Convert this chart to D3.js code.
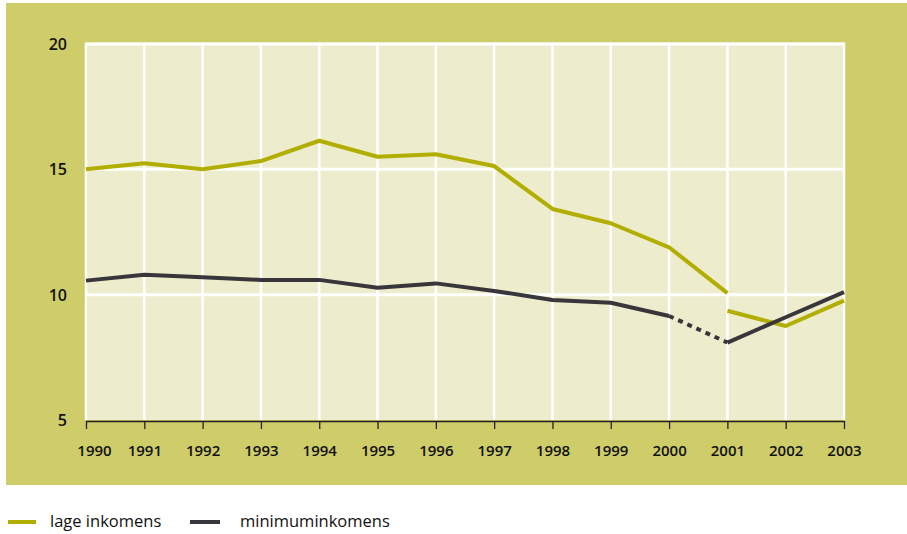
<!DOCTYPE html>
<html>
<head>
<meta charset="utf-8">
<script src="https://cdn.jsdelivr.net/npm/d3@7/dist/d3.min.js"></script>
<style>
  html, body { margin: 0; padding: 0; background: #ffffff; }
  svg { display: block; }
</style>
</head>
<body>
<svg id="chart" width="907" height="534"></svg>
<script>
// ---- data ----
const years = [1990, 1991, 1992, 1993, 1994, 1995, 1996, 1997, 1998, 1999, 2000, 2001, 2002, 2003];
// lage inkomens, old series (1990-2001) and new series (2001-2003)
const lageInkomens = [15.0, 15.24, 15.0, 15.33, 16.14, 15.5, 15.6, 15.13, 13.42, 12.85, 11.89, 10.06, null, null];
const lageInkomensNieuw = [null, null, null, null, null, null, null, null, null, null, null, 9.36, 8.75, 9.76];
// minimuminkomens; interval 2000-2001 is dotted
const minimumInkomens = [10.56, 10.79, 10.69, 10.59, 10.59, 10.28, 10.45, 10.15, 9.79, 9.68, 9.15, 8.09, 9.1, 10.1];
const minimumDottedYears = [2000, 2001];
const yTicks = [5, 10, 15, 20];
const legendLabels = ["lage inkomens", "minimuminkomens"];

// ---- layout ----
const svg = d3.select("#chart");
const colors = { panel: "#cfcc6a", plot: "#ededcd", lage: "#b2ae00", mini: "#38363a", text: "#111111" };
const plot = { left: 86, right: 844, top: 44, bottom: 420 };

svg.append("rect").attr("x", 6).attr("y", 3).attr("width", 901).attr("height", 482).attr("fill", colors.panel);

const x = d3.scaleLinear().domain([1990, 2003]).range([plot.left, plot.right]);
const y = d3.scaleLinear().domain([5, 20]).range([plot.bottom, plot.top]);

svg.append("rect").attr("x", plot.left).attr("y", plot.top - 1.5)
  .attr("width", plot.right - plot.left).attr("height", plot.bottom - plot.top + 1.5)
  .attr("fill", colors.plot);

// grid lines
const g = svg.append("g");
g.selectAll("line.v").data(years).join("line")
  .attr("x1", d => x(d)).attr("x2", d => x(d))
  .attr("y1", plot.top - 1.5).attr("y2", plot.bottom)
  .attr("stroke", "#ffffff").attr("stroke-width", 2.5);
g.selectAll("line.h").data(yTicks.filter(t => t > 5)).join("line")
  .attr("x1", plot.left).attr("x2", plot.right)
  .attr("y1", d => y(d)).attr("y2", d => y(d))
  .attr("stroke", "#ffffff").attr("stroke-width", 3);

// x axis
const xAxis = d3.axisBottom(x).tickValues(years).tickFormat(d3.format("d")).tickSize(8).tickSizeOuter(0);
const xa = svg.append("g").attr("transform", `translate(0,${plot.bottom + 1})`).call(xAxis);
xa.select(".domain").attr("stroke", "#222").attr("stroke-width", 1.3);
xa.selectAll(".tick line").attr("stroke", "#222").attr("stroke-width", 1.3);
xa.selectAll(".tick text")
  .attr("y", 30).attr("dy", "0.32em")
  .attr("fill", colors.text)
  .style("font-family", "'Open Sans', sans-serif").style("font-size", "15px").style("font-weight", 600);
xa.selectAll(".tick text").filter(d => d === 1990).attr("dx", 8);

// y axis labels
const yAxis = d3.axisLeft(y).tickValues(yTicks).tickFormat(d3.format("d")).tickSize(0);
const ya = svg.append("g").attr("transform", `translate(${plot.left - 19},0)`).call(yAxis);
ya.select(".domain").remove();
ya.selectAll(".tick text")
  .attr("x", 0).attr("dy", "0.34em")
  .attr("fill", colors.text)
  .style("font-family", "'Open Sans', sans-serif").style("font-size", "16px").style("font-weight", 600);

// lines
const line = d3.line().defined(d => d.v != null).x(d => x(d.year)).y(d => y(d.v));
const toPts = arr => years.map((yr, i) => ({ year: yr, v: arr[i] }));

svg.append("path").datum(toPts(lageInkomens)).attr("d", line)
  .attr("fill", "none").attr("stroke", colors.lage).attr("stroke-width", 4).attr("stroke-linejoin", "round");
svg.append("path").datum(toPts(lageInkomensNieuw)).attr("d", line)
  .attr("fill", "none").attr("stroke", colors.lage).attr("stroke-width", 4).attr("stroke-linejoin", "round");

const miniPts = toPts(minimumInkomens);
const dStart = years.indexOf(minimumDottedYears[0]);
const dEnd = years.indexOf(minimumDottedYears[1]);
const miniSolid1 = miniPts.slice(0, dStart + 1);
const miniDotted = miniPts.slice(dStart, dEnd + 1);
const miniSolid2 = miniPts.slice(dEnd);
[miniSolid1, miniSolid2].forEach(seg => {
  svg.append("path").datum(seg).attr("d", line)
    .attr("fill", "none").attr("stroke", colors.mini).attr("stroke-width", 4).attr("stroke-linejoin", "round");
});
svg.append("path").datum(miniDotted).attr("d", line)
  .attr("fill", "none").attr("stroke", colors.mini).attr("stroke-width", 4).attr("stroke-dasharray", "5,5");

// legend
const legend = svg.append("g").attr("transform", "translate(0,522)");
const legendItems = [
  { label: legendLabels[0], color: colors.lage, x1: 8, x2: 36, tx: 50 },
  { label: legendLabels[1], color: colors.mini, x1: 190, x2: 220, tx: 240 }
];
legendItems.forEach(it => {
  legend.append("line").attr("x1", it.x1).attr("x2", it.x2).attr("y1", 0).attr("y2", 0)
    .attr("stroke", it.color).attr("stroke-width", 4);
  legend.append("text").attr("x", it.tx).attr("y", 0).attr("dy", "0.32em")
    .attr("fill", colors.text)
    .style("font-family", "'Open Sans', sans-serif").style("font-size", "16.5px")
    .text(it.label);
});
</script>
</body>
</html>
